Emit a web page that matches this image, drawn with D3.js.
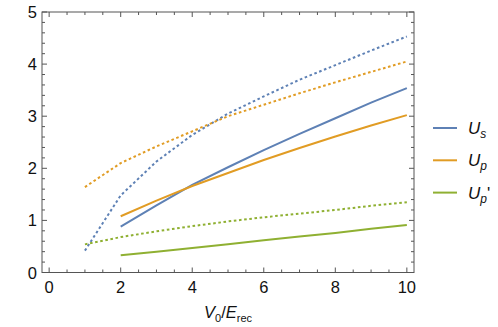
<!doctype html>
<html>
<head>
<meta charset='utf-8'>
<style>
body { margin:0; background:#fff; }
svg { font-family: 'Liberation Sans', Arial, sans-serif; }
</style>
</head>
<body>
<div id='chart'></div>
<script src='https://cdn.jsdelivr.net/npm/d3@7/dist/d3.min.js'></script>
<script>

// data
const xsDotted = [1,2,3,4,5,6,7,8,9,10];
const xsSolid = [2,3,4,5,6,7,8,9,10];
const usDotted = [0.42,1.48,2.13,2.64,3.05,3.38,3.70,3.98,4.26,4.53];
const upDotted = [1.64,2.10,2.42,2.71,3.00,3.22,3.44,3.65,3.85,4.05];
const up2Dotted = [0.54,0.68,0.79,0.89,0.98,1.06,1.13,1.20,1.28,1.35];
const usSolid = [0.88,1.29,1.68,2.02,2.35,2.66,2.96,3.26,3.54];
const upSolid = [1.08,1.38,1.66,1.91,2.16,2.39,2.61,2.82,3.02];
const up2Solid = [0.33,0.40,0.47,0.54,0.62,0.69,0.76,0.84,0.91];
const xTicks = [0,2,4,6,8,10];
const yTicks = [0,1,2,3,4,5];

const colors = {s:'#5E81B5', p:'#E19C24', p2:'#8FB032'};

const W = 498, H = 327;
const frame = {l:42, r:414, t:12, b:272.5};

const svg = d3.select('#chart').append('svg')
  .attr('width', W).attr('height', H);

const x = d3.scaleLinear().domain([-0.2, 10.2]).range([frame.l, frame.r]);
const y = d3.scaleLinear().domain([0, 5]).range([frame.b, frame.t]);

const line = d3.line().x(d => x(d[0])).y(d => y(d[1]));

const series = [
  {xs: xsDotted, ys: usDotted, c: colors.s, dash: '2.6,2.6'},
  {xs: xsDotted, ys: upDotted, c: colors.p, dash: '2.6,2.6'},
  {xs: xsDotted, ys: up2Dotted, c: colors.p2, dash: '2.6,2.6'},
  {xs: xsSolid, ys: usSolid, c: colors.s, dash: null},
  {xs: xsSolid, ys: upSolid, c: colors.p, dash: null},
  {xs: xsSolid, ys: up2Solid, c: colors.p2, dash: null}
];

svg.selectAll('.curve')
  .data(series)
  .enter().append('path')
  .attr('class','curve')
  .attr('d', d => line(d.xs.map((v,i) => [v, d.ys[i]])))
  .attr('fill','none')
  .attr('stroke', d => d.c)
  .attr('stroke-width', 2)
  .attr('stroke-dasharray', d => d.dash);

// frame with inward ticks on all sides
const axisColor = '#555';
const fr = svg.append('g');
fr.append('rect')
  .attr('x', frame.l).attr('y', frame.t)
  .attr('width', frame.r - frame.l).attr('height', frame.b - frame.t)
  .attr('fill','none').attr('stroke', axisColor).attr('stroke-width', 1);

const xMinor = d3.range(0, 10.01, 0.5);
const yMinor = d3.range(0, 5.01, 0.2);

xMinor.forEach(v => {
  const major = Math.abs(v % 2) < 1e-6;
  const len = major ? 5 : 3;
  fr.append('line').attr('x1', x(v)).attr('x2', x(v))
    .attr('y1', frame.b).attr('y2', frame.b - len).attr('stroke', axisColor);
  fr.append('line').attr('x1', x(v)).attr('x2', x(v))
    .attr('y1', frame.t).attr('y2', frame.t + len).attr('stroke', axisColor);
});
yMinor.forEach(v => {
  const major = Math.abs(v - Math.round(v)) < 1e-6;
  const len = major ? 5 : 3;
  fr.append('line').attr('y1', y(v)).attr('y2', y(v))
    .attr('x1', frame.l).attr('x2', frame.l + len).attr('stroke', axisColor);
  fr.append('line').attr('y1', y(v)).attr('y2', y(v))
    .attr('x1', frame.r).attr('x2', frame.r - len).attr('stroke', axisColor);
});

svg.selectAll('.xt').data(xTicks).enter().append('text')
  .attr('x', d => x(d)).attr('y', 293)
  .attr('text-anchor','middle').attr('font-size', 16.5).attr('fill','#111')
  .text(d => d);
svg.selectAll('.yt').data(yTicks).enter().append('text')
  .attr('x', 37).attr('y', d => y(d) + 6)
  .attr('text-anchor','end').attr('font-size', 16.5).attr('fill','#111')
  .text(d => d);

// axis title
const title = svg.append('text')
  .attr('x', 228).attr('y', 318).attr('text-anchor','middle')
  .attr('font-size', 16.5).attr('fill','#111');
title.append('tspan').attr('font-style','italic').text('V');
title.append('tspan').attr('font-size', 11).attr('dy', 4).text('0');
title.append('tspan').attr('dy', -4).text('/');
title.append('tspan').attr('font-style','italic').text('E');
title.append('tspan').attr('font-size', 11).attr('dy', 4).text('rec');

// legend
const legendItems = [
  {c: colors.s, sub: 's', prime: ''},
  {c: colors.p, sub: 'p', prime: ''},
  {c: colors.p2, sub: 'p', prime: "'"}
];
const lg = svg.selectAll('.lg').data(legendItems).enter().append('g')
  .attr('transform', (d,i) => `translate(433, ${128 + i*32.3})`);
lg.append('line').attr('x1', 0).attr('x2', 24)
  .attr('stroke', d => d.c).attr('stroke-width', 2);
const lt = lg.append('text').attr('x', 35).attr('y', 6)
  .attr('font-size', 17).attr('fill','#111');
lt.append('tspan').attr('font-style','italic').text('U');
lt.append('tspan').attr('font-style','italic').attr('font-size', 12).attr('dy', 4).text(d => d.sub);
lt.append('tspan').attr('dy', -4).text(d => d.prime);

</script>
</body>
</html>
